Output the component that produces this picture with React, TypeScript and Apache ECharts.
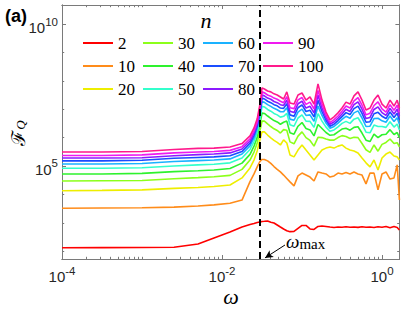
import React, { useEffect, useRef } from 'react';
import * as echarts from 'echarts';

// log10(omega) sample positions
const omegaExp = [-4, -3.5, -3, -2.6, -2.3, -2.1, -1.9, -1.75, -1.65, -1.6, -1.56, -1.53, -1.51, -1.5,
  -1.47, -1.43, -1.39, -1.35, -1.31, -1.27, -1.23, -1.19, -1.15,
  -1.1, -1.05, -1.0, -0.95, -0.9, -0.85, -0.8, -0.75, -0.7, -0.65, -0.6, -0.55, -0.5, -0.45, -0.4,
  -0.35, -0.3, -0.25, -0.2, -0.15, -0.1, -0.05, 0, 0.05, 0.1, 0.15, 0.19, 0.2175];

// log10(F_Q) for each n
const logF_n2 = [2.123, 2.125, 2.130, 2.137, 2.254, 2.465, 2.676, 2.852, 2.940, 2.975, 3.011, 3.028, 3.035, 3.046, 3.053, 3.063, 3.018, 2.993, 2.923, 2.852, 2.782, 2.722, 2.687, 2.694, 2.799, 2.905, 2.905, 2.782, 2.764, 2.870, 2.887, 2.870, 2.852, 2.835, 2.852, 2.842, 2.859, 2.845, 2.852, 2.838, 2.859, 2.845, 2.852, 2.835, 2.859, 2.842, 2.866, 2.824, 2.866, 2.835, 2.746];
const logF_n10 = [3.51, 3.52, 3.53, 3.55, 3.59, 3.63, 3.69, 3.80, 4.45, 4.72, 4.97, 5.14, 5.21, 5.23, 5.23, 5.18, 5.09, 4.98, 4.88, 4.79, 4.68, 4.56, 4.44, 4.30, 4.65, 4.75, 4.68, 4.61, 4.47, 4.79, 4.75, 4.72, 4.61, 4.65, 4.75, 4.72, 4.77, 4.72, 4.79, 4.72, 4.68, 4.37, 4.75, 4.75, 4.16, 4.72, 4.79, 4.54, 4.58, 5.04, 3.80];
const logF_n20 = [4.13, 4.14, 4.16, 4.21, 4.24, 4.28, 4.33, 4.58, 4.93, 5.21, 5.53, 5.88, 6.09, 6.20, 6.20, 6.09, 5.99, 5.90, 5.83, 5.74, 5.92, 5.81, 5.39, 5.32, 5.56, 5.74, 5.56, 5.39, 5.21, 5.39, 5.56, 5.63, 5.67, 5.63, 5.70, 5.74, 5.63, 5.56, 5.53, 5.46, 5.28, 5.11, 4.97, 5.21, 4.86, 5.28, 5.42, 5.49, 5.35, 5.32, 5.21];
const logF_n30 = [4.47, 4.48, 4.49, 4.55, 4.59, 4.62, 4.67, 4.88, 5.21, 5.49, 5.81, 6.19, 6.44, 6.58, 6.58, 6.48, 6.39, 6.31, 6.25, 6.16, 6.28, 6.26, 5.85, 5.78, 6.05, 6.20, 6.00, 5.90, 5.70, 6.01, 6.00, 5.95, 5.91, 5.91, 6.00, 6.07, 6.04, 5.97, 6.01, 6.00, 5.79, 5.57, 5.48, 5.74, 5.52, 5.76, 5.83, 5.95, 5.79, 5.82, 5.67];
const logF_n40 = [4.72, 4.72, 4.74, 4.80, 4.83, 4.86, 4.91, 5.10, 5.41, 5.70, 6.01, 6.41, 6.70, 6.86, 6.85, 6.76, 6.68, 6.60, 6.55, 6.47, 6.54, 6.58, 6.17, 6.12, 6.40, 6.53, 6.32, 6.27, 6.06, 6.46, 6.32, 6.18, 6.08, 6.10, 6.20, 6.30, 6.33, 6.26, 6.36, 6.38, 6.16, 5.91, 5.86, 6.12, 6.00, 6.10, 6.12, 6.28, 6.11, 6.18, 6.00];
const logF_n50 = [4.92, 4.92, 4.94, 5.00, 5.04, 5.06, 5.11, 5.28, 5.58, 5.86, 6.18, 6.60, 6.91, 7.10, 7.08, 6.99, 6.93, 6.85, 6.80, 6.72, 6.75, 6.85, 6.45, 6.40, 6.69, 6.80, 6.58, 6.57, 6.36, 6.84, 6.58, 6.37, 6.22, 6.27, 6.38, 6.50, 6.57, 6.50, 6.65, 6.70, 6.47, 6.19, 6.17, 6.44, 6.39, 6.39, 6.36, 6.56, 6.37, 6.48, 6.27];
const logF_n60 = [5.07, 5.07, 5.09, 5.16, 5.19, 5.21, 5.25, 5.42, 5.71, 5.99, 6.31, 6.73, 7.06, 7.27, 7.24, 7.16, 7.10, 7.03, 6.98, 6.91, 6.91, 7.05, 6.65, 6.61, 6.90, 7.00, 6.78, 6.80, 6.57, 7.11, 6.78, 6.51, 6.33, 6.39, 6.51, 6.64, 6.75, 6.68, 6.87, 6.94, 6.69, 6.39, 6.40, 6.67, 6.68, 6.59, 6.54, 6.76, 6.57, 6.70, 6.47];
const logF_n70 = [5.18, 5.18, 5.20, 5.27, 5.30, 5.32, 5.36, 5.51, 5.80, 6.08, 6.40, 6.83, 7.18, 7.39, 7.36, 7.28, 7.23, 7.16, 7.12, 7.04, 7.03, 7.19, 6.80, 6.75, 7.05, 7.15, 6.92, 6.96, 6.73, 7.31, 6.92, 6.61, 6.40, 6.47, 6.60, 6.74, 6.88, 6.81, 7.02, 7.11, 6.85, 6.54, 6.56, 6.84, 6.89, 6.75, 6.67, 6.90, 6.71, 6.86, 6.62];
const logF_n80 = [5.28, 5.28, 5.29, 5.36, 5.40, 5.42, 5.46, 5.60, 5.88, 6.16, 6.47, 6.92, 7.28, 7.50, 7.47, 7.39, 7.35, 7.27, 7.23, 7.16, 7.13, 7.32, 6.93, 6.88, 7.19, 7.28, 7.04, 7.10, 6.87, 7.49, 7.04, 6.70, 6.47, 6.55, 6.68, 6.83, 7.00, 6.92, 7.16, 7.26, 7.00, 6.67, 6.71, 6.99, 7.08, 6.88, 6.78, 7.03, 6.83, 7.00, 6.75];
const logF_n90 = [5.37, 5.37, 5.39, 5.46, 5.49, 5.51, 5.55, 5.68, 5.96, 6.24, 6.55, 7.00, 7.37, 7.61, 7.58, 7.50, 7.46, 7.39, 7.35, 7.28, 7.23, 7.44, 7.05, 7.02, 7.33, 7.41, 7.17, 7.25, 7.01, 7.66, 7.17, 6.79, 6.53, 6.63, 6.76, 6.93, 7.11, 7.04, 7.29, 7.41, 7.14, 6.80, 6.86, 7.13, 7.26, 7.01, 6.90, 7.16, 6.96, 7.14, 6.88];
const logF_n100 = [5.49, 5.49, 5.51, 5.58, 5.62, 5.63, 5.67, 5.79, 6.06, 6.34, 6.66, 7.11, 7.50, 7.75, 7.71, 7.64, 7.61, 7.54, 7.50, 7.43, 7.36, 7.61, 7.22, 7.18, 7.50, 7.57, 7.32, 7.43, 7.18, 7.89, 7.32, 6.90, 6.62, 6.73, 6.87, 7.04, 7.25, 7.18, 7.47, 7.61, 7.32, 6.97, 7.04, 7.32, 7.50, 7.18, 7.04, 7.32, 7.11, 7.32, 7.04];

const nLabels = ['2', '10', '20', '30', '40', '50', '60', '70', '80', '90', '100'];
const seriesValues = [logF_n2, logF_n10, logF_n20, logF_n30, logF_n40, logF_n50, logF_n60, logF_n70, logF_n80, logF_n90, logF_n100];
const seriesColors = ['#ff0000', '#ff8c1a', '#eeee00', '#8cff1a', '#2ef22e', '#33ffcc', '#1ab2ff', '#1a4dff', '#8c1aff', '#f01af0', '#ff1a8c'];
const legendColumns = [['2', '10', '20'], ['30', '40', '50'], ['60', '70', '80'], ['90', '100']];

const omegaMax = 0.0316;
const arrowFrom = [0.0613, 165];
const arrowTo = [0.0345, 58];

const xMin = 1e-4;
const xMax = 1.65;
const yMin = 53;
const yMax = 4.67e10;
const xMajorTicks = [1e-4, 1e-2, 1];
const xMinorTicks = [2e-4, 3e-4, 4e-4, 5e-4, 6e-4, 7e-4, 8e-4, 9e-4,
  1e-3, 2e-3, 3e-3, 4e-3, 5e-3, 6e-3, 7e-3, 8e-3, 9e-3,
  2e-2, 3e-2, 4e-2, 5e-2, 6e-2, 7e-2, 8e-2, 9e-2,
  0.1, 0.2, 0.3, 0.4, 0.5, 0.6, 0.7, 0.8, 0.9];
const yMajorTicks = [1e5, 1e10];
const yMinorTicks = [1e2, 1e3, 1e4, 1e6, 1e7, 1e8, 1e9];

const frameColor = '#7a7a7a';
const labelColor = '#262626';

export default function App() {
  const ref = useRef<HTMLDivElement>(null);
  useEffect(() => {
    if (!ref.current) return;
    const chart = echarts.init(ref.current, undefined, { renderer: 'svg' });
    const powFmt = (v: number) => {
      const e = Math.round(Math.log10(v));
      return `{b|10}{s|${e}}`;
    };
    const rich = {
      b: { fontFamily: 'Liberation Sans', fontSize: 15, color: labelColor, padding: [7, 0, 0, 0] },
      s: { fontFamily: 'Liberation Sans', fontSize: 11.5, color: labelColor, padding: [0, 0, 5, 0] },
    };
    const xBase = {
      type: 'log', logBase: 10, min: xMin, max: xMax, gridIndex: 0,
      splitLine: { show: false },
      axisLine: { show: true, lineStyle: { color: frameColor, width: 1 } },
    };
    const yBase = {
      type: 'log', logBase: 10, min: yMin, max: yMax, gridIndex: 0,
      splitLine: { show: false },
      axisLine: { show: true, lineStyle: { color: frameColor, width: 1 } },
    };
    const tick = (vals: number[], len: number) => ({
      show: true, inside: true, length: len, customValues: vals, lineStyle: { color: frameColor, width: 1 },
    });
    const xAxis = [
      { ...xBase, position: 'bottom', axisTick: tick(xMajorTicks, 4),
        axisLabel: { show: true, customValues: xMajorTicks, formatter: powFmt, margin: 3, rich } },
      { ...xBase, position: 'bottom', axisTick: tick(xMinorTicks, 2.2), axisLabel: { show: false } },
      { ...xBase, position: 'top', axisTick: tick(xMajorTicks, 4), axisLabel: { show: false } },
      { ...xBase, position: 'top', axisTick: tick(xMinorTicks, 2.2), axisLabel: { show: false } },
    ];
    const yAxis = [
      { ...yBase, position: 'left', axisTick: tick(yMajorTicks, 4),
        axisLabel: { show: true, customValues: yMajorTicks, formatter: powFmt, margin: 4, rich } },
      { ...yBase, position: 'left', axisTick: tick(yMinorTicks, 2.2), axisLabel: { show: false } },
      { ...yBase, position: 'right', axisTick: tick(yMajorTicks, 4), axisLabel: { show: false } },
      { ...yBase, position: 'right', axisTick: tick(yMinorTicks, 2.2), axisLabel: { show: false } },
    ];
    const series: any[] = seriesValues.map((vals, k) => ({
      type: 'line',
      name: nLabels[k],
      xAxisIndex: 0,
      yAxisIndex: 0,
      data: vals.map((e, i) => [Math.pow(10, omegaExp[i]), Math.pow(10, e)]),
      symbol: 'none',
      showSymbol: false,
      lineStyle: { width: 1.6, color: seriesColors[k] },
      itemStyle: { color: seriesColors[k] },
      z: 2 + k,
      silent: true,
    }));
    series[series.length - 1].markLine = {
      silent: true,
      symbol: 'none',
      label: { show: false },
      z: 20,
      data: [
        { xAxis: omegaMax, lineStyle: { color: '#000', width: 2, type: [7, 4] } },
        [
          { coord: arrowFrom, symbol: 'none', lineStyle: { color: '#000', width: 1, type: 'solid' } },
          { coord: arrowTo, symbol: 'arrow', symbolSize: [6, 8] },
        ],
      ],
    };
    const legend = legendColumns.map((col, c) => ({
      data: col.map((name) => ({ name, icon: 'rect' })),
      orient: 'vertical',
      left: 83 + 60 * c,
      top: 34.5,
      padding: 0,
      itemGap: 6,
      itemWidth: 30,
      itemHeight: 2,
      selectedMode: false,
      textStyle: { fontFamily: 'Liberation Serif', fontSize: 17, color: '#000', lineHeight: 17 },
    }));
    chart.setOption({
      animation: false,
      backgroundColor: '#fff',
      grid: { left: 62, top: 5, width: 337.4, height: 254, containLabel: false },
      xAxis,
      yAxis,
      legend,
      series,
      graphic: [
        { type: 'text', x: 16, y: 16, style: { text: '(a)', fontFamily: 'Liberation Sans', fontWeight: 'bold', fontSize: 18, fill: '#000', align: 'center', verticalAlign: 'middle' } },
        { type: 'text', x: 206, y: 20, style: { text: 'n', fontFamily: 'Liberation Serif', fontStyle: 'italic', fontSize: 22, fill: '#000', align: 'center', verticalAlign: 'middle' } },
        { type: 'text', x: 231, y: 296, style: { text: 'ω', fontFamily: 'Liberation Serif', fontStyle: 'italic', fontSize: 22, fill: '#000', align: 'center', verticalAlign: 'middle' } },
        { type: 'text', x: 16, y: 133, rotation: Math.PI / 2, style: {
          text: '{f|ℱ}{q|Q}', align: 'center', verticalAlign: 'middle',
          rich: {
            f: { fontFamily: 'Noto Sans CJK JP', fontSize: 19, fill: '#000' },
            q: { fontFamily: 'Liberation Serif', fontStyle: 'italic', fontSize: 13, fill: '#000', padding: [8, 0, 0, 0] },
          } } },
        { type: 'text', x: 286, y: 241, style: {
          text: '{w|ω}{m|max}', align: 'left', verticalAlign: 'middle',
          rich: {
            w: { fontFamily: 'Liberation Serif', fontStyle: 'italic', fontSize: 19, fill: '#000' },
            m: { fontFamily: 'Liberation Serif', fontSize: 15, fill: '#000', padding: [6, 0, 0, 0] },
          } } },
      ],
    });
    return () => chart.dispose();
  }, []);
  return <div ref={ref} style={{ position: 'fixed', left: 0, top: 0, width: 407, height: 309 }} />;
}
